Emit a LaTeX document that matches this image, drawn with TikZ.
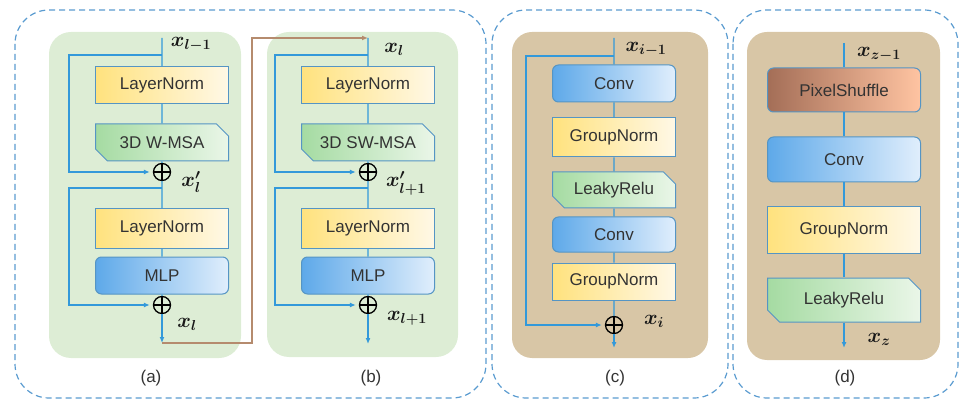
\documentclass[tikz,border=0pt]{standalone}
\usepackage{fontspec}
\setmainfont{Liberation Sans}
\usepackage{tikz}
\usepackage{xcolor}
\usetikzlibrary{arrows.meta,shapes.misc,positioning}
\definecolor{dashblue}{HTML}{5A9BD0}
\definecolor{flowblue}{HTML}{3399DA}
\definecolor{edgeblue}{HTML}{5595C4}
\definecolor{panelgreen}{HTML}{DDEDD5}
\definecolor{paneltan}{HTML}{D8C6A6}
\definecolor{linkbrown}{HTML}{B58B6E}
\definecolor{boxtext}{HTML}{333333}
\definecolor{normL}{HTML}{FFE27E}
\definecolor{normR}{HTML}{FFF8E6}
\definecolor{attnL}{HTML}{A5DBA2}
\definecolor{attnR}{HTML}{EAF6E8}
\definecolor{convL}{HTML}{5EA9E9}
\definecolor{convR}{HTML}{E0EEFC}
\definecolor{shufL}{HTML}{A46E57}
\definecolor{shufR}{HTML}{FFC4A2}
\tikzset{
    group-frame/.style = {draw=dashblue, line width=1.2pt, dash pattern=on 6pt off 4pt, rounded corners=34pt},
    green-panel/.style = {fill=panelgreen, rounded corners=22pt},
    tan-panel/.style = {fill=paneltan, rounded corners=20pt},
    block/.style = {draw=edgeblue, line width=1pt, minimum height=37pt, inner sep=0pt, font=\fontsize{17}{20}\selectfont, text=boxtext},
    norm-box/.style = {block, rectangle, left color=normL, right color=normR},
    attn-box/.style = {block, chamfered rectangle, chamfered rectangle corners={north east,south west},
        chamfered rectangle xsep=6pt, chamfered rectangle ysep=6pt, left color=attnL, right color=attnR},
    conv-box/.style = {block, rectangle, rounded corners=6pt, left color=convL, right color=convR},
    shuffle-box/.style = {block, rectangle, rounded corners=6pt, left color=shufL, right color=shufR},
    add-op/.style = {circle, draw, line width=1.3pt, minimum size=17pt, inner sep=0pt,
        path picture={\draw[line width=1.3pt] (path picture bounding box.north) -- (path picture bounding box.south)
            (path picture bounding box.west) -- (path picture bounding box.east);}},
    flow/.style = {draw=flowblue, line width=1.2pt},
    flow-arrow/.style = {flow, -{Latex[length=6pt,width=5pt]}},
    link/.style = {draw=linkbrown, line width=1.2pt, -{Latex[length=6pt,width=5pt]}},
    var-label/.style = {font=\fontsize{20.74}{24}\selectfont\boldmath, text=black!90},
    panel-label/.style = {font=\fontsize{17}{20}\selectfont, text=boxtext},
}
\begin{document}
\begin{tikzpicture}[x=1pt,y=-1pt]
\useasboundingbox (0,0) rectangle (960,403);

\draw[group-frame] (15,10) rectangle (486,398);
\draw[group-frame] (492,10) rectangle (728,398);
\draw[group-frame] (733,10) rectangle (958,398);

% (a)
\fill[green-panel] (49,32) rectangle (241,358);
\node[norm-box, minimum width=133pt] (ln1a) at (162,85) {LayerNorm};
\node[attn-box, minimum width=133pt] (msaa) at (162,142.5) {3D W-MSA};
\node[add-op] (add1a) at (162,172) {};
\node[norm-box, minimum width=133pt, minimum height=39pt] (ln2a) at (162,228.5) {LayerNorm};
\node[conv-box, minimum width=133pt] (mlpa) at (162,275.5) {MLP};
\node[add-op] (add2a) at (162,305) {};
\coordinate (ina) at (162,38);
\coordinate (spl1a) at (162,55);
\coordinate (spl2a) at (162,188);
\coordinate (outa) at (162,343);
\draw[flow] (ina) -- (ln1a) -- (msaa) -- (add1a) -- (ln2a) -- (mlpa) -- (add2a);
\draw[flow-arrow] (add2a) -- (outa);
\draw[flow-arrow, shorten >=3pt] (spl1a) -- ++(-93,0) |- (add1a);
\draw[flow-arrow, shorten >=3pt] (spl2a) -- ++(-93,0) |- (add2a);
\node[var-label] (xa0) at (191,44) {$x_{l-1}$};
\node[var-label] (xa1) at (191,182) {$x'_{l}$};
\node[var-label] (xa2) at (187,324) {$x_{l}$};
\node[panel-label] (laba) at (151,378) {(a)};

% (b)
\fill[green-panel] (267,32) rectangle (458,357);
\node[norm-box, minimum width=133pt] (ln1b) at (368,85) {LayerNorm};
\node[attn-box, minimum width=133pt] (msab) at (368,142.5) {3D SW-MSA};
\node[add-op] (add1b) at (368,172) {};
\node[norm-box, minimum width=133pt, minimum height=39pt] (ln2b) at (368,228.5) {LayerNorm};
\node[conv-box, minimum width=133pt] (mlpb) at (368,275.5) {MLP};
\node[add-op] (add2b) at (368,305) {};
\coordinate (inb) at (368,38);
\coordinate (spl1b) at (368,55);
\coordinate (spl2b) at (368,188);
\coordinate (outb) at (368,344);
\draw[flow] (inb) -- (ln1b) -- (msab) -- (add1b) -- (ln2b) -- (mlpb) -- (add2b);
\draw[flow-arrow] (add2b) -- (outb);
\draw[flow-arrow, shorten >=3pt] (spl1b) -- ++(-93,0) |- (add1b);
\draw[flow-arrow, shorten >=3pt] (spl2b) -- ++(-93,0) |- (add2b);
\node[var-label] (xb0) at (394,49) {$x_{l}$};
\node[var-label] (xb1) at (406,183) {$x'_{l+1}$};
\node[var-label] (xb2) at (407,318) {$x_{l+1}$};
\node[panel-label] (labb) at (371,378) {(b)};

\draw[link] (outa) -- ++(90,0) |- (inb);

% (c)
\fill[tan-panel] (512,32) rectangle (708,358);
\node[conv-box, minimum width=123pt] (conv1c) at (614,83.5) {Conv};
\node[norm-box, minimum width=123pt, minimum height=39pt] (gn1c) at (614,137.5) {GroupNorm};
\node[attn-box, minimum width=123pt, minimum height=36pt] (lrc) at (614,190) {LeakyRelu};
\node[conv-box, minimum width=123pt, minimum height=35pt] (conv2c) at (614,234.5) {Conv};
\node[norm-box, minimum width=123pt] (gn2c) at (614,281.5) {GroupNorm};
\node[add-op] (addc) at (614,325) {};
\coordinate (inc) at (614,38);
\coordinate (splc) at (614,56);
\coordinate (outc) at (614,348);
\draw[flow] (inc) -- (conv1c) -- (gn1c) -- (lrc) -- (conv2c) -- (gn2c) -- (addc);
\draw[flow-arrow] (addc) -- (outc);
\draw[flow-arrow, shorten >=3pt] (splc) -- ++(-88,0) |- (addc);
\node[var-label] (xc0) at (646,49) {$x_{i-1}$};
\node[var-label] (xc1) at (654,321) {$x_{i}$};
\node[panel-label] (labc) at (615,378) {(c)};

% (d)
\fill[tan-panel] (747,32) rectangle (940,360);
\node[shuffle-box, minimum width=153pt, minimum height=44pt] (psd) at (844,90) {PixelShuffle};
\node[conv-box, minimum width=153pt, minimum height=45pt] (convd) at (844,159.5) {Conv};
\node[norm-box, minimum width=153pt, minimum height=46pt] (gnd) at (844,230) {GroupNorm};
\node[attn-box, minimum width=153pt, minimum height=44pt] (lrd) at (844,300) {LeakyRelu};
\coordinate (ind) at (844,43);
\coordinate (outd) at (844,348);
\draw[flow] (ind) -- (psd) -- (convd) -- (gnd) -- (lrd);
\draw[flow-arrow] (lrd) -- (outd);
\node[var-label] (xd0) at (879,54) {$x_{z-1}$};
\node[var-label] (xd1) at (879,339) {$x_{z}$};
\node[panel-label] (labd) at (845,378) {(d)};
\end{tikzpicture}
\end{document}
